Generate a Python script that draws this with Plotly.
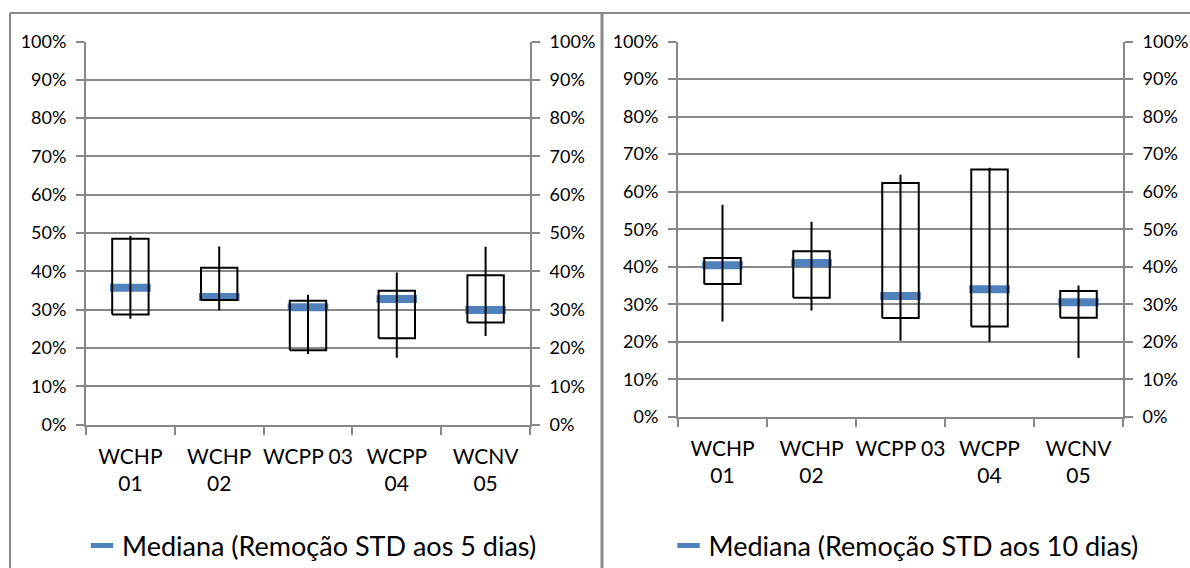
import plotly.graph_objects as go

categories = ["WCHP<br>01", "WCHP<br>02", "WCPP 03", "WCPP<br>04", "WCNV<br>05"]
y_ticks = [0, 10, 20, 30, 40, 50, 60, 70, 80, 90, 100]
y_tick_labels = [f"{v}%" for v in y_ticks]

# 5 dias
d5_min = [27.6, 29.8, 18.4, 17.4, 23.1]
d5_q1 = [28.7, 32.5, 19.4, 22.5, 26.6]
d5_med = [35.7, 33.3, 30.6, 32.8, 29.9]
d5_q3 = [48.5, 40.9, 32.3, 34.9, 39.0]
d5_max = [49.2, 46.5, 33.9, 39.7, 46.4]

# 10 dias
d10_min = [25.4, 28.3, 20.3, 20.0, 15.7]
d10_q1 = [35.4, 31.7, 26.3, 24.1, 26.4]
d10_med = [40.4, 41.0, 32.2, 34.0, 30.5]
d10_q3 = [42.3, 44.1, 62.3, 65.9, 33.5]
d10_max = [56.5, 52.0, 64.5, 66.4, 35.0]

legend_names = ["Mediana (Remoção STD aos 5 dias)", "Mediana (Remoção STD aos 10 dias)"]

FONT = "Lato"
GRID = "#888888"
BLUE = "#4F81BD"
HALF_BOX = 0.205

fig = go.Figure()


def add_panel(xa, ya, mins, q1s, meds, q3s, maxs, name, legend):
    xs = list(range(len(categories)))
    # median
    fig.add_trace(go.Scatter(
        x=xs, y=meds, mode="markers", name=name, legend=legend,
        marker=dict(symbol="line-ew", size=29, line=dict(width=8, color=BLUE), color=BLUE),
        xaxis=xa, yaxis=ya, showlegend=True, hoverinfo="skip"))
    # boxes
    bx, by = [], []
    for i, (a, b) in enumerate(zip(q1s, q3s)):
        bx += [i - HALF_BOX, i + HALF_BOX, i + HALF_BOX, i - HALF_BOX, i - HALF_BOX, None]
        by += [a, a, b, b, a, None]
    fig.add_trace(go.Scatter(x=bx, y=by, mode="lines", line=dict(color="black", width=2),
                             xaxis=xa, yaxis=ya, showlegend=False, hoverinfo="skip"))
    # whiskers
    wx, wy = [], []
    for i, (a, b) in enumerate(zip(mins, maxs)):
        wx += [i, i, None]
        wy += [a, b, None]
    fig.add_trace(go.Scatter(x=wx, y=wy, mode="lines", line=dict(color="black", width=2),
                             xaxis=xa, yaxis=ya, showlegend=False, hoverinfo="skip"))


add_panel("x", "y", d5_min, d5_q1, d5_med, d5_q3, d5_max, legend_names[0], "legend")
add_panel("x2", "y3", d10_min, d10_q1, d10_med, d10_q3, d10_max, legend_names[1], "legend2")

# dummy traces so that the right-side axes render
fig.add_trace(go.Scatter(x=[None], y=[None], xaxis="x", yaxis="y2", showlegend=False))
fig.add_trace(go.Scatter(x=[None], y=[None], xaxis="x2", yaxis="y4", showlegend=False))

W, H = 1190, 568


def xdom(a, b):
    return [a / W, b / W]


def ydom(bottom_px, top_px):
    return [1 - bottom_px / H, 1 - top_px / H]


def xaxis(dom, anchor):
    return dict(
        domain=dom, anchor=anchor, range=[-0.5, 4.5], automargin=False,
        tickmode="array", tickvals=list(range(5)), ticktext=categories,
        ticks="", showgrid=False, zeroline=False,
        showline=True, linecolor=GRID, linewidth=2,
        tickfont=dict(family=FONT, size=21, color="black"),
        ticklabelstandoff=12,
        minor=dict(tickmode="array", tickvals=[-0.5, 0.5, 1.5, 2.5, 3.5, 4.5],
                   ticks="outside", ticklen=8, tickcolor=GRID, tickwidth=2, showgrid=False),
        fixedrange=True,
    )


def yaxis(dom, anchor, side, overlay=None, grid=True):
    d = dict(
        domain=dom, anchor=anchor, side=side, range=[0, 100], automargin=False,
        tickmode="array", tickvals=y_ticks, ticktext=y_tick_labels,
        ticks="outside", ticklen=8, tickcolor=GRID, tickwidth=2,
        showgrid=grid, gridcolor=GRID, gridwidth=2, zeroline=False,
        showline=True, linecolor=GRID, linewidth=2,
        tickfont=dict(family=FONT, size=18, color="black"),
        ticklabelstandoff=6,
        fixedrange=True,
    )
    if overlay:
        d["overlaying"] = overlay
    return d


left_x = xdom(86, 530)
right_x = xdom(678, 1123)
left_y = ydom(424.5, 41.5)
right_y = ydom(416.8, 41.6)

legend_common = dict(y=1 - 546 / H, yanchor="middle", orientation="h",
                     font=dict(family=FONT, size=27, color="black"),
                     bgcolor="rgba(0,0,0,0)", itemwidth=30)

fig.update_layout(
    width=W, height=H,
    margin=dict(l=0, r=0, t=0, b=0, pad=0, autoexpand=False),
    paper_bgcolor="white", plot_bgcolor="rgba(0,0,0,0)",
    font=dict(family=FONT, color="black"),
    xaxis=xaxis(left_x, "y"),
    yaxis=yaxis(left_y, "x", "left"),
    yaxis2=yaxis(left_y, "x", "right", overlay="y", grid=False),
    xaxis2=xaxis(right_x, "y3"),
    yaxis3=yaxis(right_y, "x2", "left"),
    yaxis4=yaxis(right_y, "x2", "right", overlay="y3", grid=False),
    legend=dict(x=312 / W, xanchor="center", **legend_common),
    legend2=dict(x=906 / W, xanchor="center", **legend_common),
    showlegend=True,
    shapes=[
        dict(type="line", xref="paper", yref="paper", x0=10 / W, x1=1, y0=1 - 13 / H, y1=1 - 13 / H,
             line=dict(color=GRID, width=2)),
        dict(type="line", xref="paper", yref="paper", x0=10 / W, x1=10 / W, y0=0, y1=1 - 13 / H,
             line=dict(color=GRID, width=2)),
        dict(type="line", xref="paper", yref="paper", x0=602 / W, x1=602 / W, y0=0, y1=1 - 13 / H,
             line=dict(color=GRID, width=3)),
    ],
)

fig.write_html("out.html")
